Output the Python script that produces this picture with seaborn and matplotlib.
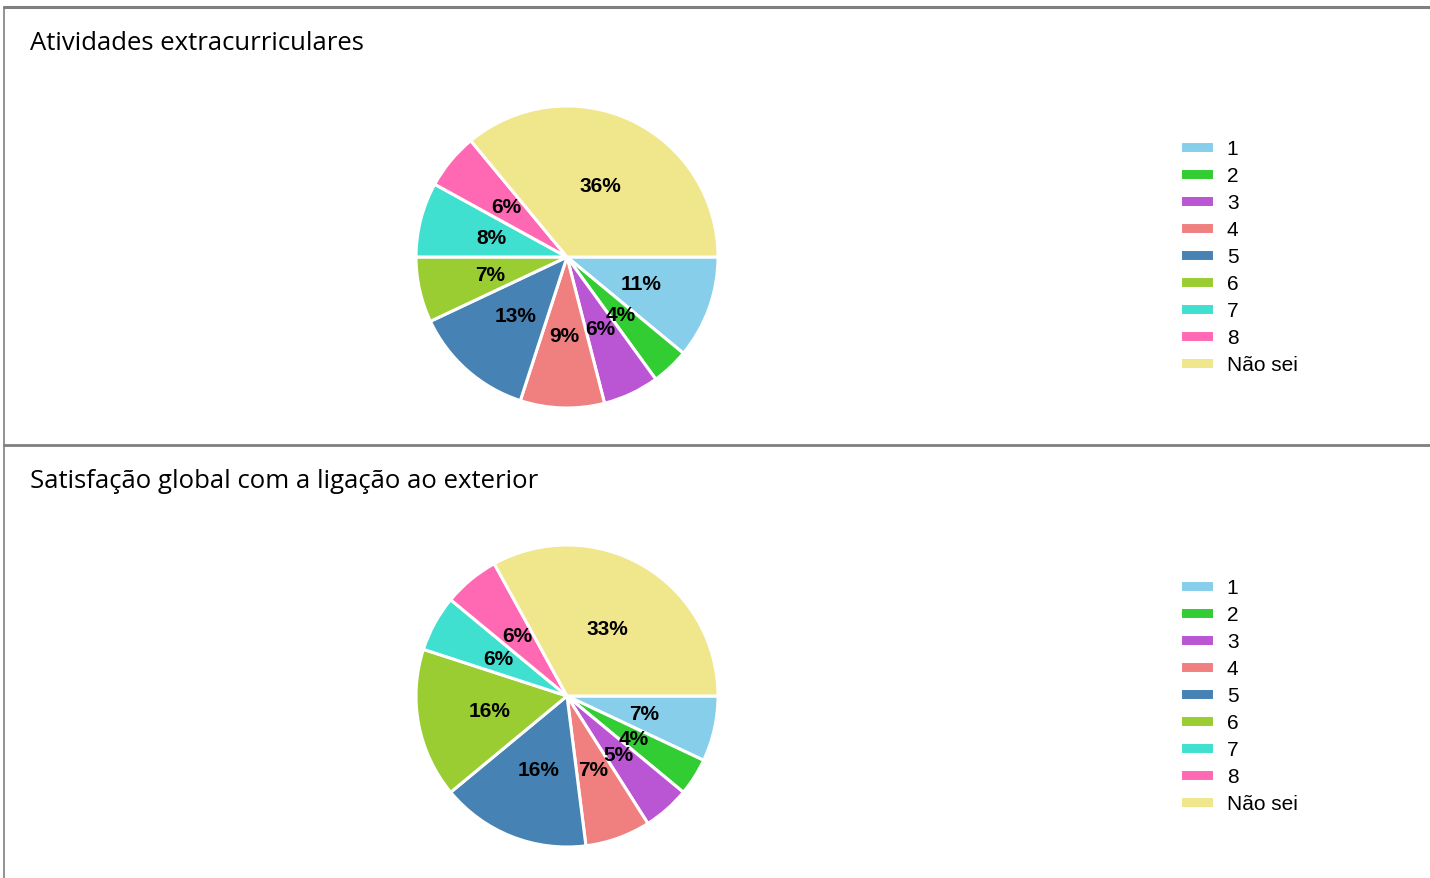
import matplotlib
matplotlib.use("Agg")
import matplotlib.pyplot as plt
from matplotlib.lines import Line2D
import seaborn as sns

sns.set_theme(style="white")
plt.rcParams['font.family'] = ['Liberation Sans', 'DejaVu Sans']

categories = ['1', '2', '3', '4', '5', '6', '7', '8', 'Não sei']
extracurriculares = [11, 4, 6, 9, 13, 7, 8, 6, 36]
ligacao_exterior = [7, 4, 5, 7, 16, 16, 6, 6, 33]
titles = ['Atividades extracurriculares', 'Satisfação global com a ligação ao exterior']

colors = sns.color_palette(['skyblue', 'limegreen', 'mediumorchid', 'lightcoral',
                            'steelblue', 'yellowgreen', 'turquoise', 'hotpink', 'khaki'])

W, H = 1430, 879
fig = plt.figure(figsize=(W / 100, H / 100), dpi=100)

panels = [
    (extracurriculares, titles[0], 258, 43),
    (ligacao_exterior, titles[1], 697, 482),
]

for values, title, cy, ty in panels:
    r = 151
    ax = fig.add_axes([(567 - r) / W, (H - cy - r) / H, 2 * r / W, 2 * r / H])
    wedges, texts, autotexts = ax.pie(
        values, colors=colors, startangle=0, counterclock=False,
        autopct='%1.0f%%', pctdistance=0.52,
        wedgeprops=dict(edgecolor='white', linewidth=2.2),
        textprops=dict(fontsize=15, fontweight='bold', color='black'))
    ax.set_xlim(-1, 1)
    ax.set_ylim(-1, 1)
    ax.axis('off')

    fig.text(30 / W, 1 - ty / H, title, fontsize=18.5, family=['Open Sans', 'DejaVu Sans'],
             va='center', ha='left', color='black')

    fig.legend(wedges, categories, loc='upper left',
               bbox_to_anchor=(1180 / W, 1 - (cy - 118) / H),
               frameon=False, fontsize=15, labelcolor='black',
               handlelength=1.63, handleheight=0.5,
               handletextpad=0.62, labelspacing=0.385, borderpad=0, borderaxespad=0)

# panel frame lines
grey = '#7f7f7f'
fig.add_artist(Line2D([4 / W, 1], [1 - 8 / H, 1 - 8 / H], color=grey, linewidth=2.2,
                      transform=fig.transFigure))
fig.add_artist(Line2D([4 / W, 4 / W], [0, 1 - 8 / H], color=grey, linewidth=1.2,
                      transform=fig.transFigure))
fig.add_artist(Line2D([4 / W, 1], [1 - 446 / H, 1 - 446 / H], color=grey, linewidth=2.0,
                      transform=fig.transFigure))

fig.savefig('out.png', dpi=100)
